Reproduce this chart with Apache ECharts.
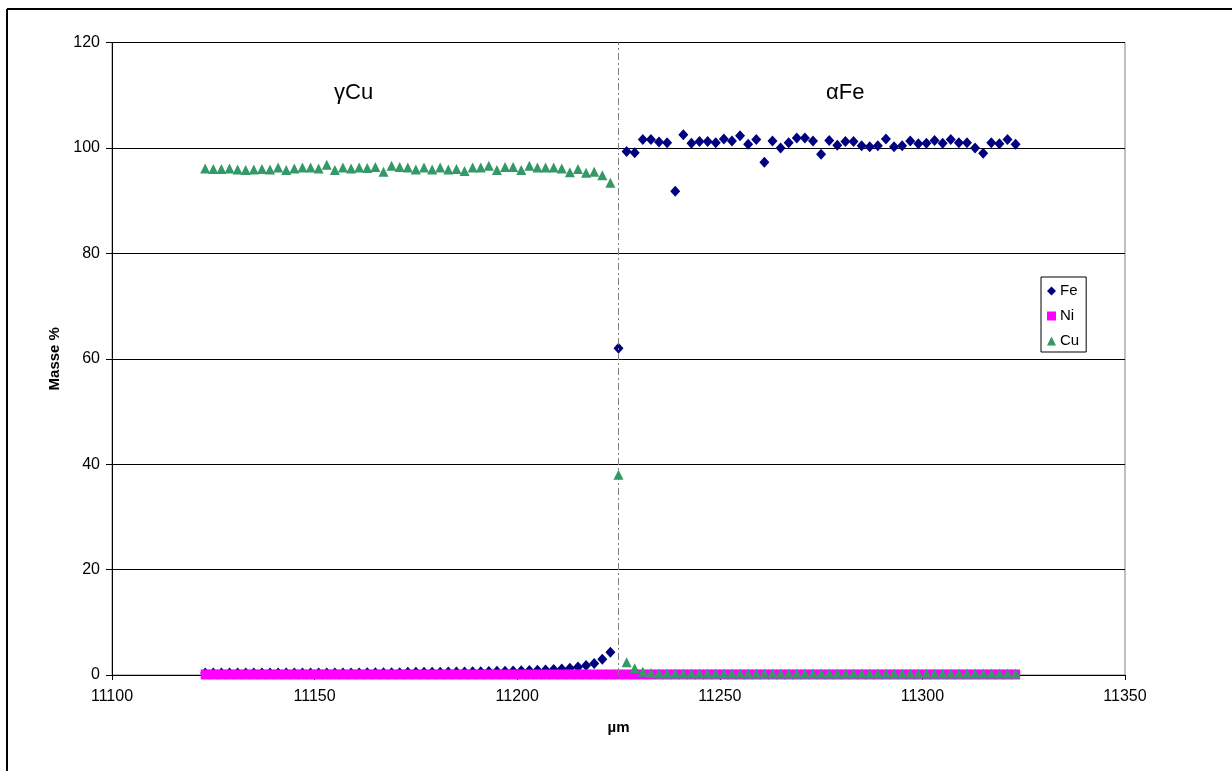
<!DOCTYPE html>
<html>
<head>
<meta charset="utf-8">
<script src="https://cdn.jsdelivr.net/npm/echarts@6/dist/echarts.min.js"></script>
<style>
html,body{margin:0;padding:0;background:#fff;}
#chart{width:1232px;height:771px;}
</style>
</head>
<body>
<div id="chart"></div>
<script>
var positions = [
11123,11125,11127,11129,11131,11133,11135,11137,11139,11141,
11143,11145,11147,11149,11151,11153,11155,11157,11159,11161,
11163,11165,11167,11169,11171,11173,11175,11177,11179,11181,
11183,11185,11187,11189,11191,11193,11195,11197,11199,11201,
11203,11205,11207,11209,11211,11213,11215,11217,11219,11221,
11223,11225,11227,11229,11231,11233,11235,11237,11239,11241,
11243,11245,11247,11249,11251,11253,11255,11257,11259,11261,
11263,11265,11267,11269,11271,11273,11275,11277,11279,11281,
11283,11285,11287,11289,11291,11293,11295,11297,11299,11301,
11303,11305,11307,11309,11311,11313,11315,11317,11319,11321,
11323];

var feValues = [
0.4,0.4,0.4,0.4,0.4,0.4,0.4,0.4,0.4,0.4,
0.4,0.4,0.4,0.4,0.4,0.4,0.4,0.4,0.4,0.4,
0.45,0.45,0.45,0.45,0.45,0.5,0.5,0.5,0.5,0.5,
0.55,0.55,0.55,0.6,0.6,0.65,0.7,0.7,0.75,0.8,
0.85,0.9,0.95,1.05,1.15,1.3,1.5,1.8,2.2,3.0,
4.3,62.0,
99.3,99.1,101.6,101.6,101.1,101.0,91.8,102.5,100.9,101.2,
101.2,101.0,101.7,101.3,102.3,100.7,101.6,97.3,101.3,100.0,
101.0,101.9,101.9,101.3,98.8,101.4,100.5,101.2,101.2,100.4,
100.2,100.4,101.7,100.2,100.4,101.3,100.8,100.9,101.4,100.9,
101.6,101.0,101.0,100.0,99.0,101.0,100.8,101.6,100.7];

var niValues = [
0.1,0.1,0.1,0.1,0.1,0.1,0.1,0.1,0.1,0.1,
0.1,0.1,0.1,0.1,0.1,0.1,0.1,0.1,0.1,0.1,
0.1,0.1,0.1,0.1,0.1,0.1,0.1,0.1,0.1,0.1,
0.1,0.1,0.1,0.1,0.1,0.1,0.1,0.1,0.1,0.1,
0.1,0.1,0.1,0.1,0.1,0.1,0.1,0.1,0.1,0.1,
0.1,0.1,0.1,0.1,0.1,0.1,0.1,0.1,0.1,0.1,
0.1,0.1,0.1,0.1,0.1,0.1,0.1,0.1,0.1,0.1,
0.1,0.1,0.1,0.1,0.1,0.1,0.1,0.1,0.1,0.1,
0.1,0.1,0.1,0.1,0.1,0.1,0.1,0.1,0.1,0.1,
0.1,0.1,0.1,0.1,0.1,0.1,0.1,0.1,0.1,0.1,
0.1];

var cuValues = [
96.1,96.0,96.0,96.1,95.9,95.8,95.9,96.0,95.9,96.3,
95.8,96.1,96.3,96.3,96.1,96.8,95.8,96.3,96.1,96.3,
96.2,96.4,95.5,96.6,96.4,96.3,95.9,96.3,95.9,96.3,
95.9,96.0,95.6,96.3,96.3,96.6,95.8,96.4,96.4,95.8,
96.6,96.3,96.3,96.3,96.1,95.4,96.0,95.3,95.5,94.8,
93.4,38.0,
2.4,1.3,0.6,0.4,0.3,0.3,0.3,0.3,0.3,0.3,
0.3,0.3,0.3,0.3,0.3,0.3,0.3,0.3,0.3,0.3,
0.3,0.3,0.3,0.3,0.3,0.3,0.3,0.3,0.3,0.3,
0.3,0.3,0.3,0.3,0.3,0.3,0.3,0.3,0.3,0.3,
0.3,0.3,0.3,0.3,0.3,0.3,0.3,0.3,0.3];

var interfacePos = 11225;
var xTicks = {min: 11100, max: 11350, interval: 50};
var yTicks = {min: 0, max: 120, interval: 20};
var seriesNames = ['Fe', 'Ni', 'Cu'];
var phaseLabels = ['γCu', 'αFe'];

function pairs(vals) {
  return positions.map(function (x, i) { return [x, vals[i]]; });
}

var FONT = 'Arial, "Liberation Sans", sans-serif';
var chart = echarts.init(document.getElementById('chart'), null, {renderer: 'canvas'});

chart.setOption({
  animation: false,
  backgroundColor: '#ffffff',
  textStyle: {fontFamily: FONT, color: '#000'},
  grid: {left: 112, top: 42.5, right: 107, bottom: 96, show: true, borderColor: '#808080', borderWidth: 1},
  legend: {
    orient: 'vertical',
    left: 1041, top: 277,
    backgroundColor: '#fff',
    borderColor: '#000', borderWidth: 1,
    padding: [6, 7, 3, 6],
    itemGap: 9,
    itemWidth: 9, itemHeight: 9,
    itemStyle: {opacity: 1},
    textStyle: {fontFamily: FONT, fontSize: 15, color: '#000', lineHeight: 16, padding: [0, 0, 0, -1]},
    data: [
      {name: seriesNames[0], icon: 'diamond'},
      {name: seriesNames[1], icon: 'rect'},
      {name: seriesNames[2], icon: 'triangle'}
    ]
  },
  xAxis: {
    type: 'value',
    min: xTicks.min, max: xTicks.max, interval: xTicks.interval,
    name: 'µm', nameLocation: 'middle', nameGap: 45,
    nameTextStyle: {fontFamily: FONT, fontSize: 15, fontWeight: 'bold', color: '#000'},
    axisLine: {onZero: false, lineStyle: {color: '#000', width: 1}},
    axisTick: {show: true, inside: false, length: 5, lineStyle: {color: '#000'}},
    axisLabel: {fontFamily: FONT, fontSize: 16, color: '#000', margin: 14,
      formatter: function (v) { return String(v); }},
    splitLine: {show: false}
  },
  yAxis: {
    type: 'value',
    min: yTicks.min, max: yTicks.max, interval: yTicks.interval,
    name: 'Masse %', nameLocation: 'middle', nameGap: 50, nameRotate: 90,
    nameTextStyle: {fontFamily: FONT, fontSize: 15, fontWeight: 'bold', color: '#000'},
    axisLine: {show: true, lineStyle: {color: '#000', width: 1}},
    axisTick: {show: true, inside: false, length: 6, lineStyle: {color: '#000'}},
    axisLabel: {fontFamily: FONT, fontSize: 16, color: '#000', margin: 12},
    splitLine: {show: true, lineStyle: {color: '#000', width: 1}}
  },
  series: [
    {
      name: seriesNames[0], type: 'scatter', symbol: 'diamond', symbolSize: [10, 11],
      itemStyle: {color: '#000080', opacity: 1},
      data: pairs(feValues),
      z: 3,
      markLine: {
        silent: true, symbol: ['none', 'none'],
        label: {show: false},
        lineStyle: {color: '#808080', width: 1, type: [7, 3, 2, 3]},
        data: [{xAxis: interfacePos}]
      }
    },
    {
      name: seriesNames[1], type: 'scatter', symbol: 'rect', symbolSize: [9, 10],
      itemStyle: {color: '#ff00ff', opacity: 1},
      data: pairs(niValues),
      z: 4
    },
    {
      name: seriesNames[2], type: 'scatter', symbol: 'triangle', symbolSize: [10, 10],
      itemStyle: {color: '#339966', opacity: 1},
      data: pairs(cuValues),
      z: 5
    }
  ],
  graphic: [
    {type: 'line', shape: {x1: 7, y1: 9, x2: 1232, y2: 9}, style: {stroke: '#000', lineWidth: 2}},
    {type: 'line', shape: {x1: 7, y1: 9, x2: 7, y2: 771}, style: {stroke: '#000', lineWidth: 2}},
    {type: 'text', left: 334, top: 82, style: {text: phaseLabels[0], font: '22px ' + FONT, fill: '#000', textAlign: 'center', textVerticalAlign: 'middle'}},
    {type: 'text', left: 826, top: 82, style: {text: phaseLabels[1], font: '22px ' + FONT, fill: '#000', textAlign: 'center', textVerticalAlign: 'middle'}}
  ]
});
</script>
</body>
</html>
